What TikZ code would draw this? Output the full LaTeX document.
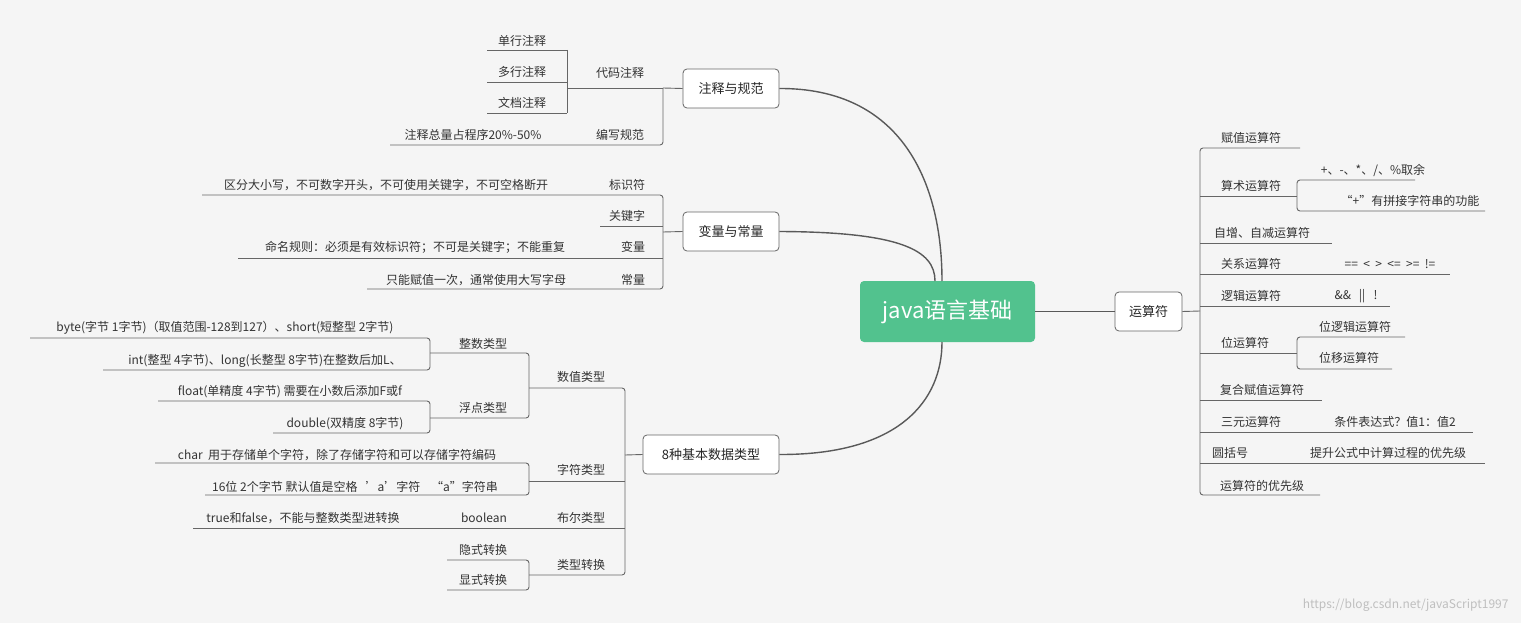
\documentclass[tikz,border=0pt]{standalone}
\usepackage{fontspec}
\setmainfont{Noto Sans CJK SC}
\begin{document}
\begin{tikzpicture}[x=1pt,y=-1pt,
  ln/.style={draw=black!60,line width=0.9pt,rounded corners=3pt},
  t/.style={font=\fontsize{12}{14}\selectfont,text=black!80,inner sep=0pt},
  top/.style={draw=black!60,fill=white,rounded corners=4pt,line width=0.8pt,font=\fontsize{13}{15}\selectfont,text=black!85,minimum height=39pt,inner sep=0pt}]
\fill[black!4] (0,0) rectangle (1521,623);
\useasboundingbox (0,0) rectangle (1521,623);
% central
\node[fill={rgb,255:red,82;green,194;blue,142},rounded corners=4pt,minimum width=175pt,minimum height=61pt,text=white,font=\fontsize{22}{26}\selectfont] (c) at (947.5,311.5) {java语言基础};
\node[top,minimum width=96pt] (zs) at (731,88.5) {注释与规范};
\node[top,minimum width=96pt] (bl) at (731,231.5) {变量与常量};
\node[top,minimum width=136pt] (sj) at (711,454.5) {8种基本数据类型};
\node[top,minimum width=67pt] (ys) at (1148.5,311.5) {运算符};
\draw[line width=1.4pt,black!65] (zs.east) .. controls (900,88) and (942,180) .. (942,281);
\draw[line width=1.4pt,black!65] (bl.east) .. controls (900,232) and (935,250) .. (935,281);
\draw[line width=1.4pt,black!65] (sj.east) .. controls (900,455) and (942,400) .. (942,342);
\draw[line width=1.4pt,black!65] (c.east) -- (ys.west);
% 注释与规范
\draw[ln] (zs.west) -- (663,88);
\draw[ln] (663,88) -- (567,88); \draw[ln] (567,50) -- (567,113);
\draw[ln] (663,88) |- (390,145);
\draw[ln] (487,50) -- (567,50); \draw[ln] (487,82) -- (567,82); \draw[ln] (487,113) -- (567,113);
\node[t] (a1) at (522,41) {单行注释}; \node[t] (a2) at (522,72) {多行注释}; \node[t] (a3) at (522,103) {文档注释};
\node[t] (a4) at (620,73) {代码注释}; \node[t] (a5) at (620,135) {编写规范};
\node[t] (a6) at (473,135) {注释总量占程序20\%-50\%};
% 变量与常量
\draw[ln] (bl.west) -- (663,232);
\draw[ln] (202,195) -| (663,289) -- (367,289);
\draw[ln] (600,226) -- (663,226); \draw[ln] (238,258) -- (663,258);
\node[t] (b1) at (627,185) {标识符}; \node[t] (b2) at (386,185) {区分大小写，不可数字开头，不可使用关键字，不可空格断开};
\node[t] (b3) at (627,216) {关键字}; \node[t] (b4) at (633,247) {变量};
\node[t] (b5) at (415,247) {命名规则：必须是有效标识符；不可是关键字；不能重复};
\node[t] (b6) at (633,280) {常量}; \node[t] (b7) at (476,280) {只能赋值一次，通常使用大写字母};
% 8种基本数据类型
\draw[ln] (sj.west) -- (625,455);
\draw[ln] (529,388) -| (625,575) -- (529,575);
\draw[ln] (529,481) -- (625,481); \draw[ln] (193,528) -- (625,528);
\draw[ln] (430,353) -| (529,418) -- (430,418);
\draw[ln] (30,338) -| (430,370) -- (103,370);
\draw[ln] (158,401) -| (430,433) -- (273,433);
\draw[ln] (155,463) -| (529,495) -- (205,495);
\draw[ln] (447,560) -| (529,590) -- (447,590);
\node[t] (d1) at (581,377) {数值类型}; \node[t] (d2) at (581,470) {字符类型};
\node[t] (d3) at (581,518) {布尔类型}; \node[t] (d4) at (581,565) {类型转换};
\node[t] (d5) at (483,344) {整数类型}; \node[t] (d6) at (483,408) {浮点类型};
\node[t] (d7) at (484,518) {boolean}; \node[t] (d8) at (303,518) {true和false，不能与整数类型进转换};
\node[t] (d9) at (483,550) {隐式转换}; \node[t] (d10) at (483,580) {显式转换};
\node[t] (e1) at (225,328) {byte(字节 1字节)（取值范围-128到127）、short(短整型 2字节)};
\node[t] (e2) at (265,361) {int(整型 4字节)、long(长整型 8字节)在整数后加L、};
\node[t] (e3) at (290,392) {float(单精度 4字节) 需要在小数后添加F或f};
\node[t] (e4) at (345,424) {double(双精度 8字节)};
\node[t] (e5) at (337,455) {char\ \ 用于存储单个字符，除了存储字符和可以存储字符编码};
\node[t] (e6) at (355,487) {16位 2个字节 默认值是空格\ \ \ 'a'字符\ \ \ \ “a”字符串};
% 运算符
\draw[ln] (ys.east) -- (1200,311);
\draw[ln] (1300,148) -| (1200,495) -- (1320,495);
\draw[ln] (1200,196) -- (1297,196); \draw[ln] (1415,180) -| (1297,211) -- (1485,211);
\draw[ln] (1200,243) -- (1332,243);
\draw[ln] (1200,274) -- (1450,274);
\draw[ln] (1200,306) -- (1390,306);
\draw[ln] (1200,353) -- (1297,353); \draw[ln] (1405,337) -| (1297,369) -- (1392,369);
\draw[ln] (1200,400) -- (1322,400);
\draw[ln] (1200,432) -- (1473,432);
\draw[ln] (1200,463) -- (1485,463);
\node[t] (r1) at (1251,138) {赋值运算符}; \node[t] (r2) at (1251,186) {算术运算符};
\node[t] (r3) at (1262,233) {自增、自减运算符}; \node[t] (r4) at (1251,264) {关系运算符};
\node[t] (r5) at (1251,296) {逻辑运算符}; \node[t] (r6) at (1245,343) {位运算符};
\node[t] (r7) at (1262,390) {复合赋值运算符}; \node[t] (r8) at (1251,422) {三元运算符};
\node[t] (r9) at (1230,453) {圆括号}; \node[t] (r10) at (1262,486) {运算符的优先级};
\node[t] (s1) at (1373,170) {+、-、*、/、\%取余};
\node[t] (s2) at (1410,201) {“+”有拼接字符串的功能};
\node[t] (s3) at (1390,264) {==\ \ <\ \ >\ \ <=\ \ >=\ \ !=};
\node[t] (s4) at (1356,296) {\&\&\ \ \ ||\ \ \ !};
\node[t] (s5) at (1355,327) {位逻辑运算符}; \node[t] (s6) at (1349,358) {位移运算符};
\node[t] (s7) at (1395,422) {条件表达式？值1：值2};
\node[t] (s8) at (1388,453) {提升公式中计算过程的优先级};
\node[font=\fontsize{12}{14}\selectfont,text=black!25,anchor=east] (wm) at (1512,605) {https://blog.csdn.net/javaScript1997};
\end{tikzpicture}
\end{document}
